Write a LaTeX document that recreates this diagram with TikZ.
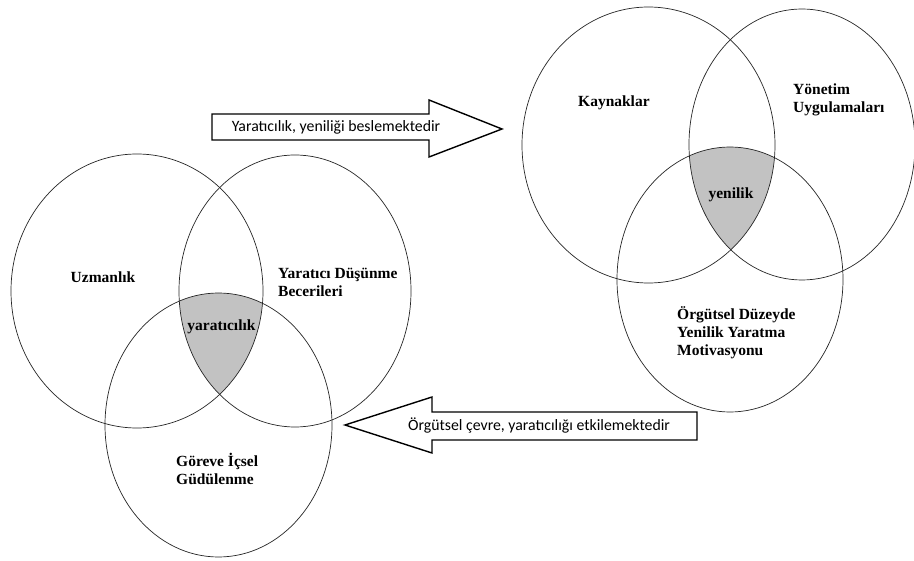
\documentclass[tikz,border=0pt]{standalone}
\usepackage{fontspec}
\setmainfont{Liberation Serif}
\newfontfamily\arrowfont{Carlito}
\begin{document}
\begin{tikzpicture}[x=1pt,y=-1pt,
  ring/.style={draw=black!85,line width=0.7pt},
  core/.style={fill=black!24},
  blockarrow/.style={draw=black,line width=1.4pt,fill=white,line join=miter},
  setlabel/.style={font=\fontsize{15.5}{18}\selectfont\bfseries,align=left,inner sep=0pt,anchor=west},
  arrowlabel/.style={font=\arrowfont\fontsize{15.8}{18}\selectfont,inner sep=0pt}]
\useasboundingbox (0,0) rectangle (914,561);
\fill[white] (0,0) rectangle (914,561);

% --- creativity components ---
\coordinate (uz) at (137,291);
\coordinate (yd) at (295,291);
\coordinate (gi) at (218.5,425);
\begin{scope}
  \clip (uz) ellipse [x radius=126,y radius=137];
  \clip (yd) ellipse [x radius=116,y radius=136];
  \fill[core] (gi) ellipse [x radius=113.5,y radius=132];
\end{scope}
\draw[ring] (uz) ellipse [x radius=126,y radius=137];
\draw[ring] (yd) ellipse [x radius=116,y radius=136];
\draw[ring] (gi) ellipse [x radius=113.5,y radius=132];

% --- innovation components ---
\coordinate (ky) at (648.5,145);
\coordinate (yu) at (802,144.5);
\coordinate (om) at (730,279.5);
\begin{scope}
  \clip (ky) ellipse [x radius=126.5,y radius=138];
  \clip (yu) ellipse [x radius=113,y radius=135.5];
  \fill[core] (om) ellipse [x radius=113,y radius=132.5];
\end{scope}
\draw[ring] (ky) ellipse [x radius=126.5,y radius=138];
\draw[ring] (yu) ellipse [x radius=113,y radius=135.5];
\draw[ring] (om) ellipse [x radius=113,y radius=132.5];

% --- set labels ---
\node[setlabel] (l1) at (70.5,277) {Uzmanlık};
\node[setlabel] (l2) at (278,282) {Yaratıcı Düşünme\\Becerileri};
\node[setlabel,anchor=center] (l3) at (221.5,327) {yaratıcılık};
\node[setlabel] (l4) at (176,468.5) {Göreve İçsel\\Güdülenme};
\node[setlabel] (l5) at (578,103) {Kaynaklar};
\node[setlabel] (l6) at (793,100) {Yönetim\\Uygulamaları};
\node[setlabel,anchor=center] (l7) at (731,195) {yenilik};
\node[setlabel] (l8) at (677,332.5) {Örgütsel Düzeyde\\Yenilik Yaratma\\Motivasyonu};

% --- block arrows ---
\draw[blockarrow] (212,114) -- (429,114) -- (429,100) -- (502,129)
  -- (429,157) -- (429,140) -- (212,140) -- cycle;
\node[arrowlabel] (a1) at (336,127) {Yaratıcılık, yeniliği beslemektedir};

\draw[blockarrow] (697,412) -- (432,412) -- (432,397) -- (345,425)
  -- (432,453) -- (432,440) -- (697,440) -- cycle;
\node[arrowlabel] (a2) at (539,426) {Örgütsel çevre, yaratıcılığı etkilemektedir};
\end{tikzpicture}
\end{document}
